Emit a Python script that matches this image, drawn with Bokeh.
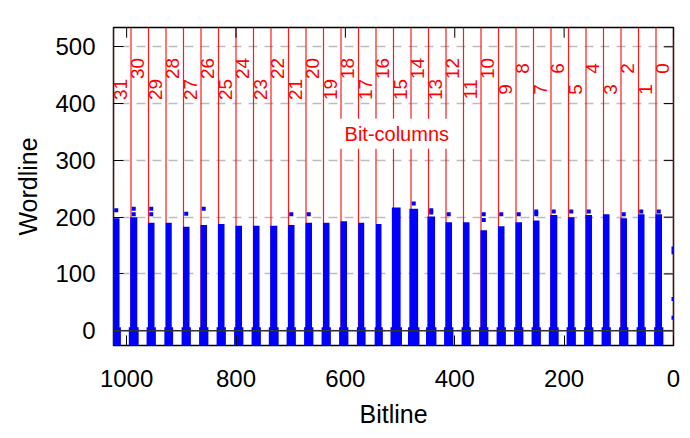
import math

from bokeh.plotting import figure
from bokeh.models import Range1d, Span, Label, FixedTicker
from bokeh.core.properties import value
from bokeh.embed import file_html
from bokeh.resources import INLINE

# bit-columns 31..0, each 32 bitlines wide
columns = list(range(31, -1, -1))
col_width = 32
col_edges = [col_width * k for k in range(33)]

# top of the dense band of points in each column (wordline)
band_top = [198, 200, 190, 190, 183, 186, 188, 185, 185, 185, 186, 190,
            190, 193, 190, 188, 217, 215, 201, 191, 191, 177, 184, 191,
            194, 204, 200, 204, 205, 198, 205, 205]
band_w = [12, 13, 12, 11, 12, 12, 12, 12, 12, 13, 12, 12,
          12, 12, 11, 10, 16, 16, 14, 12, 12, 12, 12, 12,
          12, 13, 12, 12, 12, 12, 12, 12]

# stray points above the bands
out_col = [31, 30, 30, 29, 29, 27, 26, 21, 20, 14, 13, 13, 12, 10, 10,
           9, 8, 7, 7, 6, 5, 4, 2, 1, 0]
out_y = [212, 215, 205, 215, 205, 206, 215, 205, 205, 224, 212, 208, 205,
         205, 195, 205, 205, 210, 205, 210, 210, 210, 205, 210, 210]
edge_y = [145, 138, 56, 23]

x_ticks = [0, 200, 400, 600, 800, 1000]
y_ticks = [0, 100, 200, 300, 400, 500]
y_lo, y_hi = -26, 534
x_hi, x_lo = 1024, 0

FONT = "Liberation Sans"

p = figure(width=682, height=430, output_backend="svg", toolbar_location=None,
           x_range=Range1d(x_hi, x_lo), y_range=Range1d(y_lo, y_hi),
           min_border_left=113, min_border_right=9, min_border_top=27,
           min_border_bottom=85)
p.background_fill_color = "white"
p.outline_line_color = "black"
p.outline_line_width = 1.5

# grid
p.xgrid.visible = False
p.ygrid.ticker = FixedTicker(ticks=y_ticks)
p.ygrid.grid_line_color = "#bdbdbd"
p.ygrid.grid_line_width = 1.5
p.ygrid.grid_line_dash = "9 7"

# axes
for ax, ticks in ((p.xaxis[0], x_ticks), (p.yaxis[0], y_ticks)):
    ax.ticker = FixedTicker(ticks=ticks)
    ax.major_tick_in = 10
    ax.major_tick_out = 0
    ax.minor_tick_line_color = None
    ax.axis_line_color = None
    ax.major_tick_line_color = "black"
    ax.major_label_text_font = FONT
    ax.major_label_text_font_size = "24px"
    ax.major_label_text_color = "black"
    ax.axis_label_text_font = FONT
    ax.axis_label_text_font_size = "25px"
    ax.axis_label_text_font_style = "normal"
    ax.axis_label_text_color = "black"
p.xaxis.axis_label = "Bitline"
p.yaxis.axis_label = "Wordline"
p.xaxis.major_label_standoff = 24
p.yaxis.major_label_standoff = 18
p.xaxis.axis_label_standoff = 10
p.yaxis.axis_label_standoff = 10

# mirrored inward ticks on top and right
p.segment(x0=x_ticks, y0=[y_hi] * len(x_ticks), x1=x_ticks,
          y1=[y_hi - 18] * len(x_ticks), line_color="black", line_width=1)
p.segment(x0=[x_lo] * len(y_ticks), y0=y_ticks, x1=[x_lo + 18] * len(y_ticks),
          y1=y_ticks, line_color="black", line_width=1)

# bit-column boundaries
for loc in col_edges:
    p.add_layout(Span(location=loc, dimension="height", line_color="red",
                      line_width=1.2, line_alpha=0.9, level="underlay"))

# zero line
p.add_layout(Span(location=0, dimension="width", line_color="#333333",
                  line_width=1.5))

# bands of points
band_x = [col_width * (k + 1) - 5 for k in columns]
p.vbar(x=band_x, width=band_w, bottom=y_lo, top=band_top,
       fill_color="blue", line_color=None)
p.vbar(x=band_x, width=[w + 5 for w in band_w], bottom=y_lo, top=6,
       fill_color="blue", line_color=None)

ox = [col_width * (k + 1) - 5 for k in out_col]
p.scatter(ox, out_y, marker="square", size=4, fill_color="blue", line_color=None)
p.scatter([x_lo] * len(edge_y), edge_y, marker="square", size=4,
          fill_color="blue", line_color=None)

# column labels, staggered
lab_x = [col_width * (k + 1) - 12 for k in columns]
lab_y = [462 if k % 2 == 0 else 425 for k in columns]
p.text(x=lab_x, y=lab_y, text=[str(k) for k in columns], angle=math.pi / 2,
       text_align="center", text_baseline="middle", text_color="red",
       text_font=value(FONT), text_font_size="19px")

p.add_layout(Label(x=506, y=347, text="Bit-columns", text_align="center",
                   text_baseline="middle", text_color="red", text_font=FONT,
                   text_font_size="20px", background_fill_color="white",
                   padding=(8, 4)))

open("out.html", "w").write(file_html(p, INLINE))
